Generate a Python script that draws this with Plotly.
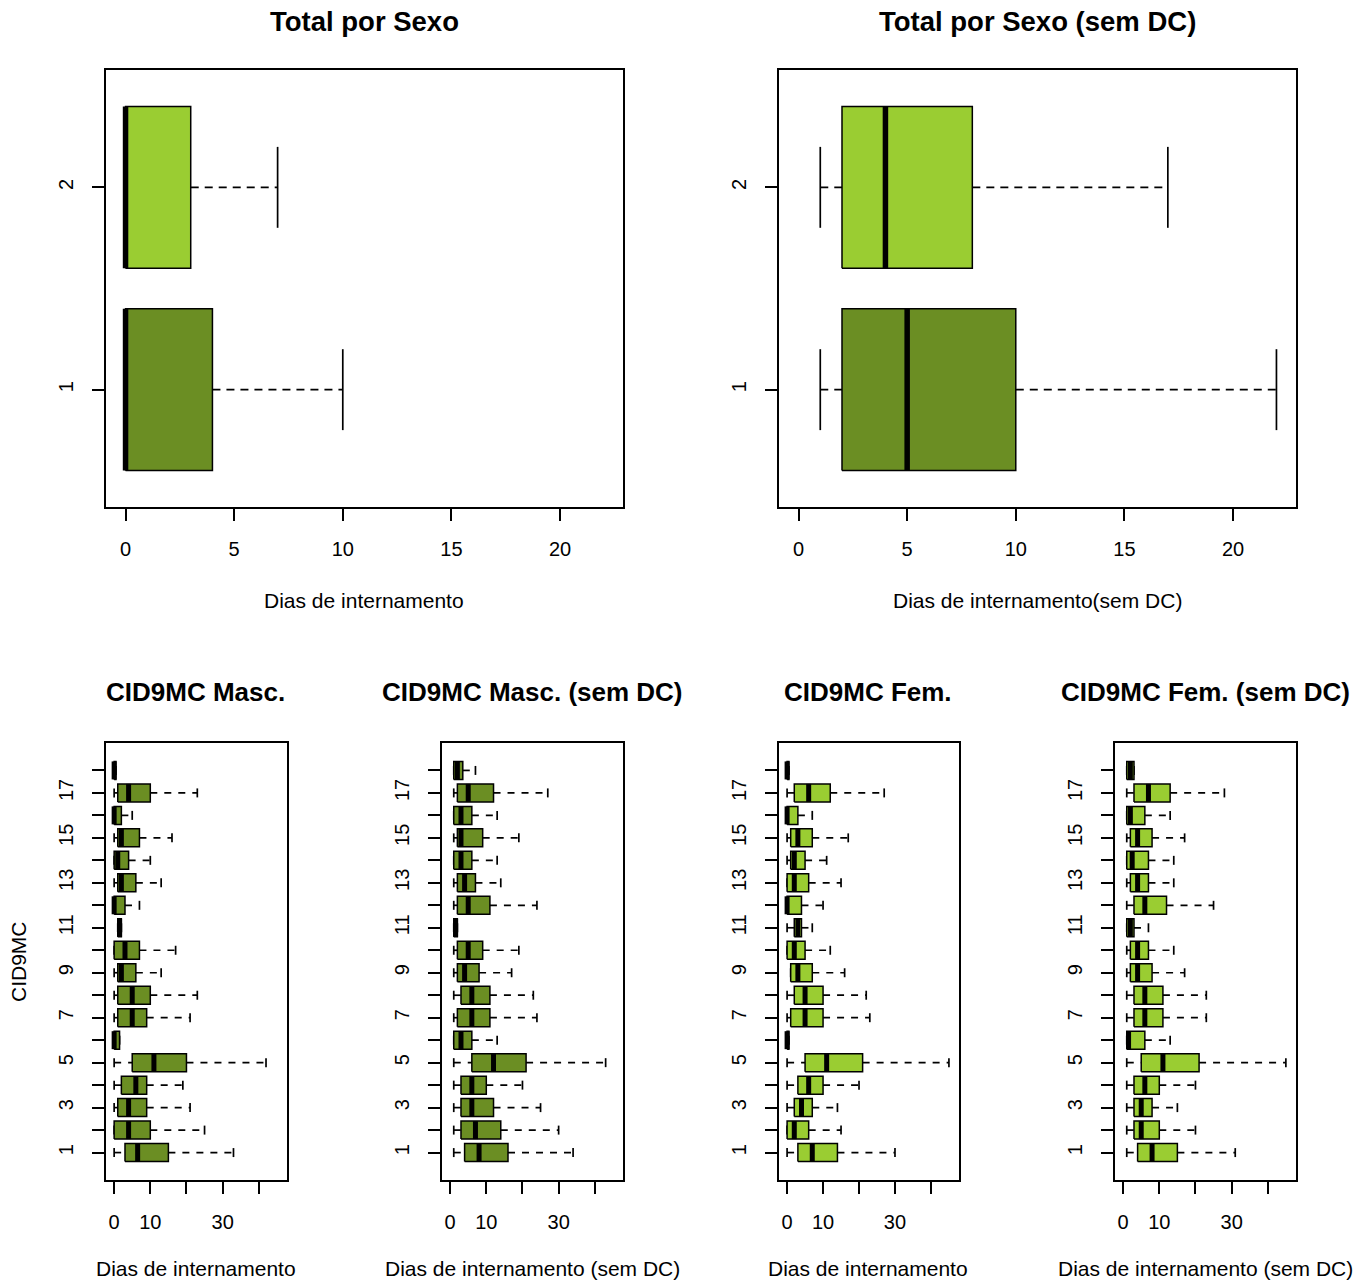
import plotly.graph_objects as go

W, H = 1365, 1284

# ---------------- data ----------------
sexo_grupos = [1, 2]
total_min = [0, 0]
total_q1 = [0, 0]
total_med = [0, 0]
total_q3 = [4, 3]
total_max = [10, 7]

semdc_min = [1, 1]
semdc_q1 = [2, 2]
semdc_med = [5, 4]
semdc_q3 = [10, 8]
semdc_max = [22, 17]

cid_grupos = list(range(1, 19))

masc_min = [0, 0, 0, 0, 0, 0, 0, 0, 0, 0, 1, 0, 0, 0, 0, 0, 0, 0]
masc_q1 = [3, 0, 1, 2, 5, 0, 1, 1, 1, 0, 1, 0, 1, 0, 1, 0, 1, 0]
masc_med = [6.5, 4, 4, 6, 11, 0, 5, 5, 2, 3, 1.5, 0, 2, 1, 2, 0, 4, 0]
masc_q3 = [15, 10, 9, 9, 20, 1.5, 9, 10, 6, 7, 2, 3, 6, 4, 7, 2, 10, 0.5]
masc_max = [33, 25, 21, 19, 42, 1.5, 21, 23, 13, 17, 2, 7, 13, 10, 16, 5, 23, 0.5]

masc_sdc_min = [1] * 18
masc_sdc_q1 = [4, 3, 3, 3, 6, 1, 2, 3, 2, 2, 1, 2, 2, 1, 2, 1, 2, 1]
masc_sdc_med = [8, 7, 6, 6, 12, 3, 6, 6, 4, 5, 1.5, 5, 4, 3, 3, 3, 5, 2]
masc_sdc_q3 = [16, 14, 12, 10, 21, 6, 11, 11, 8, 9, 2, 11, 7, 6, 9, 6, 12, 3.5]
masc_sdc_max = [34, 30, 25, 20, 43, 13, 24, 23, 17, 19, 2, 24, 14, 13, 19, 13, 27, 7]

fem_min = [0, 0, 0, 0, 0, 0, 0, 0, 1, 0, 0, 0, 0, 0, 0, 0, 0, 0]
fem_q1 = [3, 0, 2, 3, 5, 0, 1, 2, 1, 0, 2, 0, 0, 1, 1, 0, 2, 0]
fem_med = [7, 2, 4, 6, 11, 0, 5, 5, 3, 2, 3, 0, 2, 2, 3, 0, 6, 0]
fem_q3 = [14, 6, 7, 10, 21, 0.5, 10, 10, 7, 5, 4, 4, 6, 5, 7, 3, 12, 0.5]
fem_max = [30, 15, 14, 20, 45, 0.5, 23, 22, 16, 12, 7, 10, 15, 11, 17, 7, 27, 0.5]

fem_sdc_min = [1] * 18
fem_sdc_q1 = [4, 3, 3, 3, 5, 1, 3, 3, 2, 2, 1, 3, 2, 1, 2, 1, 3, 1]
fem_sdc_med = [8, 5, 5, 6, 11, 1.5, 6, 6, 4, 4, 2, 6, 4, 2.5, 4, 2, 7, 2]
fem_sdc_q3 = [15, 10, 8, 10, 21, 6, 11, 11, 8, 7, 3, 12, 7, 7, 8, 6, 13, 3]
fem_sdc_max = [31, 20, 15, 20, 45, 13, 23, 23, 17, 14, 7, 25, 14, 14, 17, 13, 28, 3]

top_xticks = [0, 5, 10, 15, 20]
bot_xticks = [0, 10, 20, 30, 40]
bot_xticktext = ["0", "10", "", "30", ""]
bot_yticktext = [str(g) if g % 2 == 1 else "" for g in cid_grupos]

OLIVE = "#6B8E23"
YGREEN = "#9ACD32"
FONT = "Liberation Sans, Arial, sans-serif"

fig = go.Figure()


def add_panel(ax, mins, q1s, meds, q3s, maxs, groups, color, medw, dash):
    xa, ya = "x" + ax, "y" + ax
    hw, sw = 0.4, 0.2
    wx, wy, bx, by, mx, my, sx, sy = [], [], [], [], [], [], [], []
    for g, lo, a, m, b, hi in zip(groups, mins, q1s, meds, q3s, maxs):
        wx += [lo, a, None, b, hi, None]
        wy += [g, g, None, g, g, None]
        bx += [a, b, b, a, a, None]
        by += [g - hw, g - hw, g + hw, g + hw, g - hw, None]
        mx += [m, m, None]
        my += [g - hw, g + hw, None]
        sx += [lo, lo, None, hi, hi, None]
        sy += [g - sw, g + sw, None, g - sw, g + sw, None]
    common = dict(xaxis=xa, yaxis=ya, mode="lines", showlegend=False, hoverinfo="skip")
    fig.add_trace(go.Scatter(x=wx, y=wy, line=dict(color="black", width=1.7, dash=dash), **common))
    fig.add_trace(go.Scatter(x=sx, y=sy, line=dict(color="black", width=1.7), **common))
    fig.add_trace(go.Scatter(x=bx, y=by, fill="toself", fillcolor=color,
                             line=dict(color="black", width=1.5), **common))
    fig.add_trace(go.Scatter(x=mx, y=my, line=dict(color="black", width=medw), **common))


# top panels (group 1 olive, group 2 yellowgreen)
for ax, arrs in (("", (total_min, total_q1, total_med, total_q3, total_max)),
                 ("2", (semdc_min, semdc_q1, semdc_med, semdc_q3, semdc_max))):
    for i, col in ((0, OLIVE), (1, YGREEN)):
        add_panel(ax, *[[a[i]] for a in arrs], [sexo_grupos[i]], col, 5.5, "8px,6px")

add_panel("3", masc_min, masc_q1, masc_med, masc_q3, masc_max, cid_grupos, OLIVE, 5, "7px,7px")
add_panel("4", masc_sdc_min, masc_sdc_q1, masc_sdc_med, masc_sdc_q3, masc_sdc_max, cid_grupos, OLIVE, 5, "7px,7px")
add_panel("5", fem_min, fem_q1, fem_med, fem_q3, fem_max, cid_grupos, YGREEN, 5, "7px,7px")
add_panel("6", fem_sdc_min, fem_sdc_q1, fem_sdc_med, fem_sdc_q3, fem_sdc_max, cid_grupos, YGREEN, 5, "7px,7px")


def px_x(a, b):
    return [a / W, b / W]


def px_y(top, bot):
    return [1 - bot / H, 1 - top / H]


axis_common = dict(showline=True, mirror=True, linecolor="black", linewidth=1.6,
                   showgrid=False, zeroline=False, ticks="outside", ticklen=12,
                   tickwidth=1.5, tickcolor="black",
                   tickfont=dict(family=FONT, size=20, color="black"))

layout = dict(width=W, height=H, margin=dict(l=0, r=0, t=0, b=0),
              paper_bgcolor="white", plot_bgcolor="white", showlegend=False)

top_x = [(106, 623), (779, 1296)]
bot_x = [(106, 287), (442, 623), (779, 959), (1115, 1296)]
names = ["", "2", "3", "4", "5", "6"]

for k, (a, b) in enumerate(top_x):
    n = names[k]
    layout["xaxis" + n] = dict(domain=px_x(a, b), anchor="y" + n, range=[-0.9, 22.9],
                               tickvals=top_xticks, ticklabelstandoff=11, **axis_common)
    layout["yaxis" + n] = dict(domain=px_y(70, 507), anchor="x" + n, range=[0.42, 2.58],
                               tickvals=sexo_grupos, ticktext=[str(g) for g in sexo_grupos],
                               tickangle=-90, ticklabelstandoff=11, **axis_common)
for k, (a, b) in enumerate(bot_x):
    n = names[k + 2]
    layout["xaxis" + n] = dict(domain=px_x(a, b), anchor="y" + n, range=[-2.25, 47.8],
                               tickvals=bot_xticks, ticktext=bot_xticktext,
                               ticklabelstandoff=11, **axis_common)
    layout["yaxis" + n] = dict(domain=px_y(743, 1180), anchor="x" + n, range=[-0.22, 19.22],
                               tickvals=cid_grupos, ticktext=bot_yticktext,
                               tickangle=-90, ticklabelstandoff=11, **axis_common)

fig.update_layout(**layout)


def ann(text, x, y, size, bold=False, angle=0):
    fig.add_annotation(text=f"<b>{text}</b>" if bold else text, x=x / W, y=1 - y / H,
                       xref="paper", yref="paper", xanchor="center", yanchor="middle",
                       showarrow=False, textangle=angle,
                       font=dict(family=FONT, size=size, color="black"))


ann("Total por Sexo", 364, 22, 27.5, True)
ann("Total por Sexo (sem DC)", 1037, 22, 27.5, True)
ann("CID9MC Masc.", 196, 692, 26, True)
ann("CID9MC Masc. (sem DC)", 532, 692, 26, True)
ann("CID9MC Fem.", 868, 692, 26, True)
ann("CID9MC Fem. (sem DC)", 1205, 692, 26, True)
ann("Dias de internamento", 364, 600, 21)
ann("Dias de internamento(sem DC)", 1037, 600, 21)
ann("Dias de internamento", 196, 1268, 21)
ann("Dias de internamento (sem DC)", 532, 1268, 21)
ann("Dias de internamento", 868, 1268, 21)
ann("Dias de internamento (sem DC)", 1205, 1268, 21)
ann("CID9MC", 18, 962, 21, angle=-90)

fig.write_html("out.html", config={"displayModeBar": False},
               post_script="document.body.style.margin='0';document.body.style.padding='0';"
                           "document.documentElement.style.overflow='hidden';")
